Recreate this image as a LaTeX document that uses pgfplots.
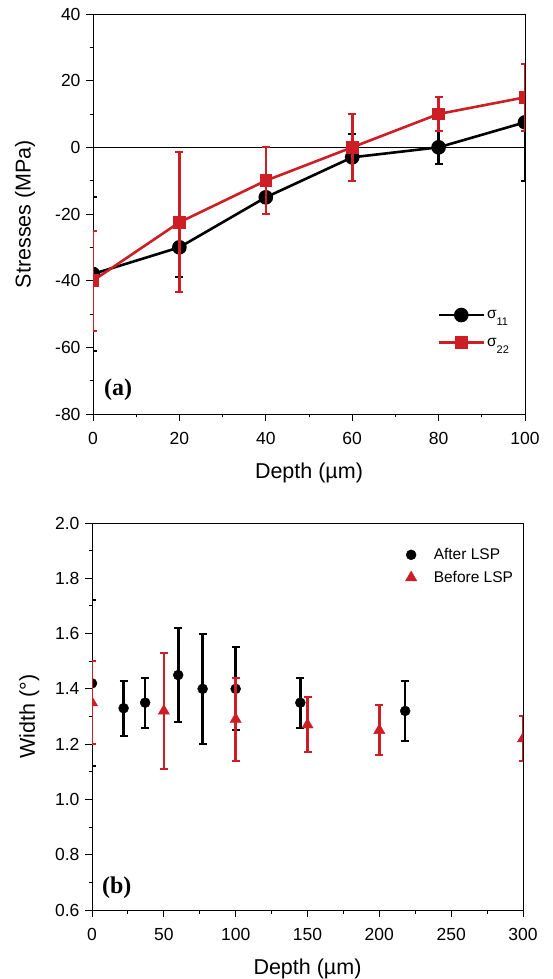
\documentclass[border=0pt]{standalone}
\usepackage{fontspec}
\setmainfont{Liberation Sans}
\newfontfamily\tms{Liberation Serif}
\usepackage{pgfplots}
\pgfplotsset{compat=1.18}
\usepackage{pgfplotstable}
\definecolor{myred}{RGB}{204,30,36}

% panel (a): residual stresses, value and half error bar
\pgfplotstableread{
x y e
0 -38 23
20 -30 9
40 -15 5
60 -3 7
80 0 5
100 7.5 17.5
}\sigA
\pgfplotstableread{
x y e
0 -40 15
20 -22.5 21
40 -10 10
60 0 10
80 10 5
100 15 10
}\sigB
% panel (b): peak width
\pgfplotstableread{
x y e
0 1.42 0.30
22 1.33 0.10
37 1.35 0.09
60 1.45 0.17
77 1.40 0.20
100 1.40 0.15
145 1.35 0.09
218 1.32 0.11
}\after
\pgfplotstableread{
x y e
0 1.35 0.15
50 1.32 0.21
100 1.29 0.15
150 1.27 0.10
200 1.25 0.09
300 1.22 0.08
}\before

\pgfplotsset{
  myax/.style={
    scale only axis,
    axis line style={line width=0.9pt},
    tick style={line width=0.9pt, black},
    tick align=outside,
    xtick pos=bottom, ytick pos=left,
    major tick length=7pt, minor tick length=3.5pt,
    minor x tick num=1, minor y tick num=1,
    tick label style={font=\fontsize{17.5}{20}\selectfont},
    xticklabel style={yshift=-8pt},
    yticklabel style={xshift=-2pt},
    label style={font=\fontsize{21.5}{25}\selectfont},
    /pgf/number format/assume math mode=true,
    clip marker paths=true,
    legend style={draw=none, fill=none, font=\fontsize{15.5}{18}\selectfont},
    legend cell align=left,
    xlabel style={at={(axis description cs:0.5,0)}, anchor=center, yshift=-59pt},
  },
  ebar/.style={error bars/.cd, y dir=both, y explicit,
    error bar style={line width=2.6pt, #1},
    error mark options={rotate=90, mark size=4pt, line width=2pt, #1}},
}

\begin{document}
\begin{tikzpicture}
\useasboundingbox (0,0) rectangle (552pt,979pt);

\begin{axis}[myax,
  at={(93pt,565pt)}, anchor=south west,
  width=432pt, height=400pt,
  xmin=0, xmax=100, ymin=-80, ymax=40,
  xtick={0,20,...,100}, ytick={-80,-60,...,40},
  xlabel={Depth (µm)}, ylabel={Stresses (MPa)},
  ylabel style={at={(axis description cs:-0.157,0.5)}, anchor=center},
  legend image code/.code={\draw[mark repeat=2, mark phase=2] plot coordinates {(0pt,0pt) (22.5pt,0pt) (45pt,0pt)};},
  legend style={at={(axis description cs:0.79,0.27)}, anchor=north west, row sep=14pt},
]
\addplot[black, line width=0.8pt, forget plot] coordinates {(0,0) (100,0)};
\addplot[black, line width=2.6pt, mark=*, mark size=6pt, ebar=black]
  table[x=x, y=y, y error=e] {\sigA};
\addplot[myred, line width=2.6pt, mark=square*, mark size=5pt, ebar=myred]
  table[x=x, y=y, y error=e] {\sigB};
\legend{σ\raisebox{-7pt}{\fontsize{11}{11}\selectfont 11}, σ\raisebox{-7pt}{\fontsize{11}{11}\selectfont 22}}
\node[anchor=west, inner sep=0pt, font=\tms\bfseries\fontsize{24}{24}\selectfont]
  at (rel axis cs:0.0255,0.06) {(a)};
\end{axis}

\begin{axis}[myax,
  at={(92pt,69pt)}, anchor=south west,
  width=431pt, height=387pt,
  xmin=0, xmax=300, ymin=0.6, ymax=2.0,
  xtick={0,50,...,300}, ytick={0.6,0.8,...,2.01},
  yticklabel style={/pgf/number format/.cd, fixed, fixed zerofill, precision=1},
  xlabel={Depth (µm)}, ylabel={Width (°)},
  ylabel style={at={(axis description cs:-0.1455,0.5)}, anchor=center},
  legend style={at={(axis description cs:0.72,0.945)}, anchor=north west, row sep=6pt},
]
\addplot[black, only marks, mark=*, mark size=5pt, ebar=black]
  table[x=x, y=y, y error=e] {\after};
\addplot[myred, only marks, mark=triangle*, mark size=6.5pt, ebar=myred]
  table[x=x, y=y, y error=e] {\before};
\legend{\hspace*{15pt}After LSP, \hspace*{15pt}Before LSP}
\node[anchor=west, inner sep=0pt, font=\tms\bfseries\fontsize{24}{24}\selectfont]
  at (rel axis cs:0.023,0.057) {(b)};
\end{axis}
\end{tikzpicture}
\end{document}
